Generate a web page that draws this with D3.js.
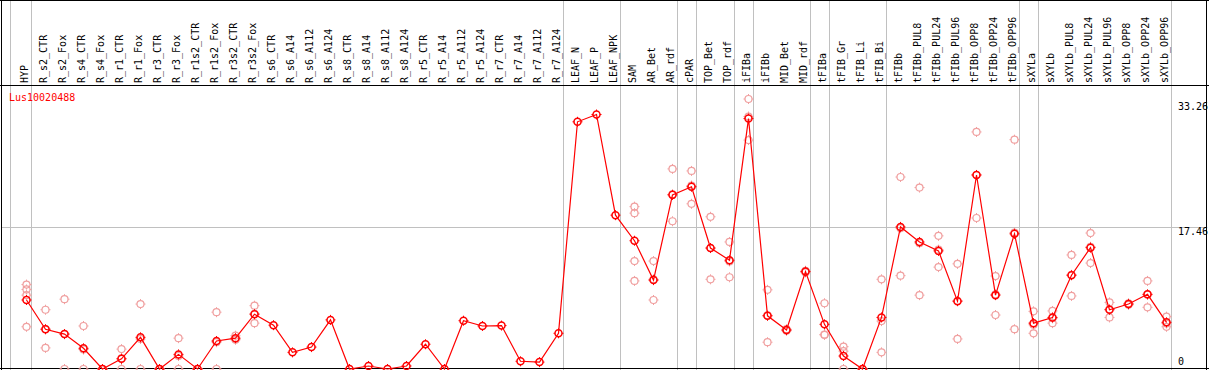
<!DOCTYPE html>
<html><head><meta charset="utf-8">
<script src="https://cdn.jsdelivr.net/npm/d3@7/dist/d3.min.js"></script>
<style>html,body{margin:0;padding:0;background:#fff;}svg{display:block;}</style>
</head><body>
<script>
const categories = ["HYP","R_s2_CTR","R_s2_Fox","R_s4_CTR","R_s4_Fox","R_r1_CTR","R_r1_Fox","R_r3_CTR","R_r3_Fox","R_r1s2_CTR","R_r1s2_Fox","R_r3s2_CTR","R_r3s2_Fox","R_s6_CTR","R_s6_A14","R_s6_A112","R_s6_A124","R_s8_CTR","R_s8_A14","R_s8_A112","R_s8_A124","R_r5_CTR","R_r5_A14","R_r5_A112","R_r5_A124","R_r7_CTR","R_r7_A14","R_r7_A112","R_r7_A124","LEAF_N","LEAF_P","LEAF_NPK","SAM","AR_Bet","AR_rdf","cPAR","TOP_Bet","TOP_rdf","iFIBa","iFIBb","MID_Bet","MID_rdf","tFIBa","tFIB_Gr","tFIB_Li","tFIB_Bi","tFIBb","tFIBb_PUL8","tFIBb_PUL24","tFIBb_PUL96","tFIBb_OPP8","tFIBb_OPP24","tFIBb_OPP96","sXYLa","sXYLb","sXYLb_PUL8","sXYLb_PUL24","sXYLb_PUL96","sXYLb_OPP8","sXYLb_OPP24","sXYLb_OPP96"];
const means = [8.5,4.9,4.3,2.55,0,1.25,3.9,0,1.8,0,3.45,3.8,6.75,5.4,2.05,2.7,6.05,0,0.37,0,0.37,3.05,0,5.95,5.3,5.35,0.95,0.85,4.4,30.45,31.35,18.95,15.8,10.95,21.45,22.45,14.9,13.4,30.85,6.55,4.8,12.0,5.5,1.6,0,6.35,17.5,15.65,14.55,8.35,23.9,9.1,16.65,5.65,6.35,11.55,14.95,7.3,8.0,9.2,5.75];
const replicates = [
 [10.4,9.8,9.1,5.2],[7.3,2.6,4.9],[8.6,0,4.3],[5.3,0,2.4],[0,0,0],[2.45,0,1.3],[8.0,0,3.7],[0,0,0],[3.8,0,1.6],[0,0,0],
 [7.0,0,3.3],[4.1,3.6,3.7],[7.8,5.65,6.8],[],[],[],[],[],[],[],
 [],[],[],[],[],[],[],[],[],[],
 [],[],[20.0,19.2,13.3,10.85],[13.3,8.5,11.05],[24.65,18.2,21.5],[24.4,20.35,22.6],[18.75,11.05,14.9],[15.65,11.3,13.25],[33.26,28.2,31.1],[9.75,3.3,6.6],
 [4.9,4.7,4.8],[12.1,11.9,12.0],[8.1,4.2,4.25],[2.75,2.2,0],[0,0,0],[11.05,2.05,5.9],[23.65,11.5,17.35],[22.35,9.1,15.5],[16.4,12.55,14.7],[12.95,3.7,8.4],
 [29.2,18.6,23.9],[11.45,6.65,9.2],[28.25,4.9,16.8],[7.1,4.4,5.45],[7.15,5.65,6.25],[14.05,9.0,11.6],[16.75,13.05,15.05],[8.2,6.35,7.35],[8.1,7.9,8.0],[10.85,7.6,9.15],
 [6.45,5.2,5.6]
];
const groupEnds = ["HYP","R_r7_A124","LEAF_NPK","AR_rdf","cPAR","TOP_rdf","iFIBa","MID_rdf","tFIBa","tFIB_Bi","tFIBb_OPP96","sXYLa","sXYLb_OPP96"];
const yTicks = [33.26, 17.46, 0];
const geneName = "Lus10020488";

const W = 1209, H = 370;
const svg = d3.select("body").append("svg").attr("width", W).attr("height", H);
const FONT = "'DejaVu Sans Mono', monospace";

const x = d3.scalePoint().domain(categories).range([26.5, 1166.5]);
const y = d3.scaleLinear().domain([0, 33.26]).range([369, 99]);

// separators
svg.append("line").attr("x1",10.5).attr("x2",10.5).attr("y1",0).attr("y2",H).attr("stroke","#c0c0c0");
groupEnds.forEach(c => {
  const gx = Math.round(x(c) + 4) + 0.5;
  svg.append("line").attr("x1",gx).attr("x2",gx).attr("y1",0).attr("y2",H).attr("stroke","#c0c0c0");
});
// horizontal grid at middle tick
const gy = Math.round(y(17.46)) + 0.5;
svg.append("line").attr("x1",1).attr("x2",1207).attr("y1",gy).attr("y2",gy).attr("stroke","#c0c0c0");

// frame
svg.append("line").attr("x1",0).attr("x2",W).attr("y1",0.5).attr("y2",0.5).attr("stroke","#000");
svg.append("line").attr("x1",0).attr("x2",W).attr("y1",85.5).attr("y2",85.5).attr("stroke","#000");
svg.append("line").attr("x1",0).attr("x2",W).attr("y1",368.5).attr("y2",368.5).attr("stroke","#000");
svg.append("line").attr("x1",1.5).attr("x2",1.5).attr("y1",0).attr("y2",H).attr("stroke","#000");
svg.append("line").attr("x1",1206.5).attr("x2",1206.5).attr("y1",0).attr("y2",H).attr("stroke","#000");

// column labels
svg.append("g").selectAll("text").data(categories).join("text")
  .attr("transform", d => `translate(${x(d)+1.5},83) rotate(-90)`)
  .attr("font-family", FONT).attr("font-size", 10).attr("fill", "#000")
  .text(d => d);

// y labels
const offs = {"33.26": 8, "17.46": 5, "0": -7};
svg.append("g").selectAll("text").data(yTicks).join("text")
  .attr("x", 1178).attr("y", d => y(d) + offs[String(d)])
  .attr("dominant-baseline","middle")
  .attr("font-family", FONT).attr("font-size", 10).attr("fill","#000")
  .text(d => String(d));

svg.append("text").attr("x", 9).attr("y", 98).attr("dominant-baseline","middle")
  .attr("font-family", FONT).attr("font-size", 10).attr("fill","#ff0000").text(geneName);

function marker(g, cx, cy, color, sw) {
  const r = 3.5;
  g.append("circle").attr("cx",cx).attr("cy",cy).attr("r",r).attr("fill","none").attr("stroke",color).attr("stroke-width",sw);
  g.append("path").attr("d",
    `M${cx},${cy-r-1.5}V${cy-r}M${cx},${cy+r}V${cy+r+1.5}M${cx-r-1.5},${cy}H${cx-r}M${cx+r},${cy}H${cx+r+1.5}`)
    .attr("stroke",color).attr("stroke-width",1);
}

const plot = svg.append("g");
// replicates
const repG = plot.append("g");
categories.forEach((c,i) => {
  replicates[i].forEach(v => marker(repG, x(c), y(v), "#f0a0a0", 1.2));
});
// mean line
const line = d3.line().x((d,i) => x(categories[i])).y(d => y(d));
plot.append("path").datum(means).attr("d", line).attr("fill","none").attr("stroke","#ff0000").attr("stroke-width",1.2);
const meanG = plot.append("g");
categories.forEach((c,i) => marker(meanG, x(c), y(means[i]), "#ff0000", 1.5));
</script>
</body></html>
